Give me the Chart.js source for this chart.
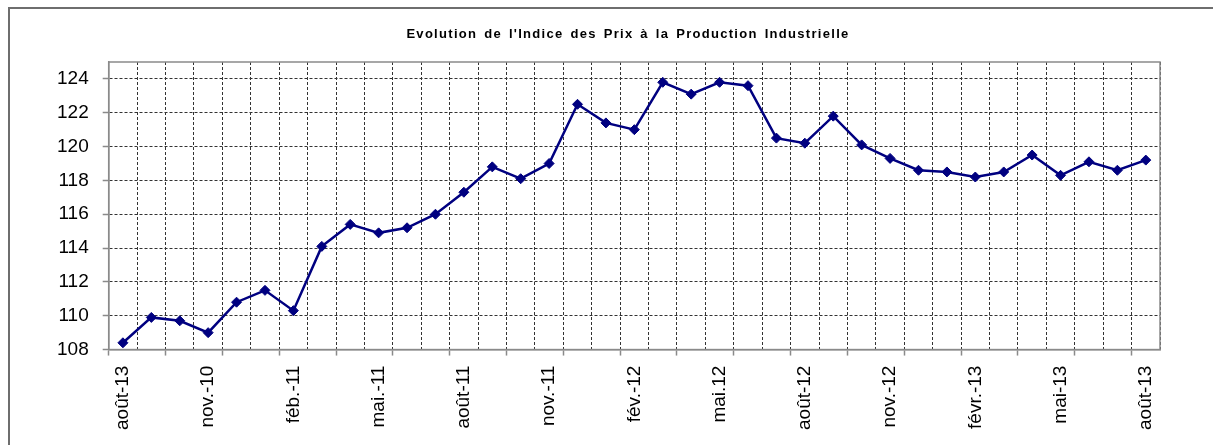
<!DOCTYPE html>
<html><head><meta charset="utf-8">
<script src="https://cdn.jsdelivr.net/npm/chart.js@4"></script>
<style>
html,body{margin:0;padding:0;background:#fff;overflow:hidden;}
#wrap{position:relative;width:1213px;height:445px;}
#frame{position:absolute;left:8px;top:7px;width:1220px;height:450px;border-left:2px solid #6e6e6e;border-top:2px solid #6e6e6e;box-sizing:border-box;pointer-events:none;}
canvas{position:absolute;left:0;top:0;}
</style></head><body>
<div id="wrap"><canvas id="c" width="1213" height="445"></canvas><div id="frame"></div></div>
<script>
const titleText = "Evolution de l'Indice des Prix à la Production Industrielle";
const months = ["août-10","sept.-10","oct.-10","nov.-10","déc.-10","janv.-11","févr.-11","mars-11","avr.-11","mai-11","juin-11","juil.-11",
  "août-11","sept.-11","oct.-11","nov.-11","déc.-11","janv.-12","févr.-12","mars-12","avr.-12","mai-12","juin-12","juil.-12",
  "août-12","sept.-12","oct.-12","nov.-12","déc.-12","janv.-13","févr.-13","mars-13","avr.-13","mai-13","juin-13","juil.-13","août-13"];
const tickLabels = ["août-13","nov.-10","féb.-11","mai.-11","août-11","nov.-11","fév.-12","mai.12","août-12","nov.-12","févr.-13","mai-13","août-13"];
const values = [108.4,109.9,109.7,109.0,110.8,111.5,110.3,114.1,115.4,114.9,115.2,116.0,
  117.3,118.8,118.1,119.0,122.5,121.4,121.0,123.8,123.1,123.8,123.6,120.5,
  120.2,121.8,120.1,119.3,118.6,118.5,118.2,118.5,119.5,118.3,119.1,118.6,119.2];
const yTicks = [108,110,112,114,116,118,120,122,124];
const yMin = 108, yMax = 125;

const FONT = "'Liberation Sans', Arial, sans-serif";

const framePlugin = {
  id: 'plotFrame',
  beforeDatasetsDraw(chart) {
    const {ctx, chartArea: a} = chart;
    ctx.save();
    ctx.strokeStyle = '#8a8a8a';
    ctx.lineWidth = 1.5;
    ctx.strokeRect(a.left, a.top, a.right - a.left, a.bottom - a.top);
    ctx.restore();
  }
};

const spacedTitle = {
  id: 'spacedTitle',
  afterDraw(chart, args, opts) {
    const ctx = chart.ctx;
    ctx.save();
    ctx.font = "bold 13px " + FONT;
    ctx.fillStyle = '#000';
    ctx.textAlign = 'center';
    ctx.textBaseline = 'middle';
    if ('letterSpacing' in ctx) ctx.letterSpacing = opts.spacing + 'px';
    if ('wordSpacing' in ctx) ctx.wordSpacing = opts.wordSpacing + 'px';
    ctx.fillText(opts.text, opts.x, opts.y);
    ctx.restore();
  }
};

new Chart(document.getElementById('c'), {
  type: 'line',
  data: {
    labels: months,
    datasets: [{
      data: values,
      borderColor: '#000080',
      backgroundColor: '#000080',
      borderWidth: 2.5,
      pointStyle: 'rectRot',
      pointRadius: 5,
      pointBorderWidth: 1,
      pointBackgroundColor: '#000080',
      pointBorderColor: '#000080',
      tension: 0,
      fill: false
    }]
  },
  options: {
    responsive: false,
    animation: false,
    devicePixelRatio: 1,
    layout: {padding: {top: 62, left: 43, right: 53, bottom: 5}},
    plugins: {
      legend: {display: false},
      tooltip: {enabled: false},
      title: {display: false},
      spacedTitle: {text: titleText, x: 628, y: 34, spacing: 1.3, wordSpacing: 2}
    },
    scales: {
      x: {
        offset: true,
        grid: {
          offset: true,
          color: '#333',
          lineWidth: 1,
          drawTicks: true,
          tickLength: 6,
          tickWidth: 1.5,
          tickColor: (c) => (c.index !== undefined && c.index % 2 === 0) ? '#8a8a8a' : 'rgba(0,0,0,0)'
        },
        border: {color: '#8a8a8a', width: 1.5, dash: [3, 2]},
        ticks: {
          autoSkip: false,
          maxRotation: 90,
          minRotation: 90,
          padding: 10,
          color: '#000',
          font: {family: FONT, size: 19},
          callback: (v, i) => (i % 3 === 0) ? tickLabels[i / 3] : ''
        }
      },
      y: {
        min: yMin,
        max: yMax,
        afterBuildTicks: (axis) => { axis.ticks = yTicks.map(v => ({value: v})); },
        grid: {
          color: '#333',
          lineWidth: 1,
          drawTicks: true,
          tickLength: 6,
          tickWidth: 1.5,
          tickColor: '#8a8a8a'
        },
        border: {color: '#8a8a8a', width: 1.5, dash: [3, 2]},
        ticks: {
          padding: 14,
          color: '#000',
          font: {family: FONT, size: 19}
        }
      }
    }
  },
  plugins: [framePlugin, spacedTitle]
});
</script>
</body></html>
